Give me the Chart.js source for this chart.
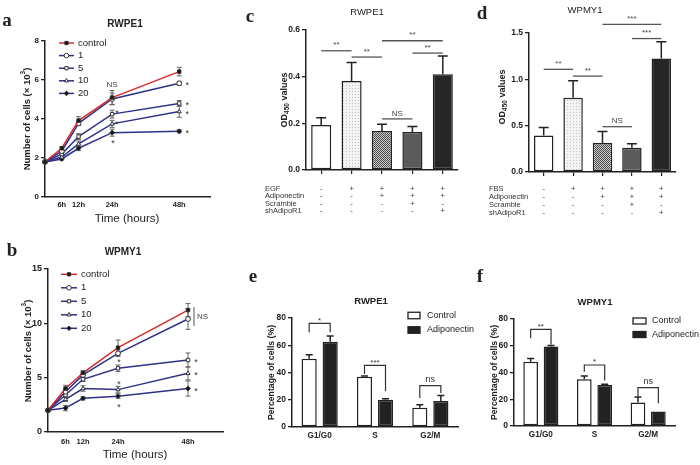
<!DOCTYPE html>
<html>
<head>
<meta charset="utf-8">
<title>Adiponectin proliferation figure</title>
<script src="https://cdn.jsdelivr.net/npm/chart.js@4.4.1/dist/chart.umd.min.js"></script>
<style>
  body { margin: 0; background: #fff; }
  #figure { position: relative; width: 700px; height: 465px; overflow: hidden; }
  #figure canvas { position: absolute; }
</style>
</head>
<body>
<div id="figure">
  <canvas id="panelA" width="235" height="228" style="left:0;top:0"></canvas>
  <canvas id="panelB" width="240" height="237" style="left:0;top:228px"></canvas>
  <canvas id="panelC" width="232" height="225" style="left:240px;top:0"></canvas>
  <canvas id="panelD" width="230" height="225" style="left:470px;top:0"></canvas>
  <canvas id="panelE" width="235" height="235" style="left:240px;top:230px"></canvas>
  <canvas id="panelF" width="230" height="235" style="left:470px;top:230px"></canvas>
</div>
<script>
// ---- data ----
// time course
const hours = [0, 6, 12, 24, 48];
const hourTicks = [6, 12, 24, 48];
const doses = ['control', '1', '5', '10', '20'];

// a: RWPE1, number of cells (x10^3)
const rwpeControl = [1.8, 2.5, 3.92, 5.1, 6.43];
const rwpeDose1 = [1.8, 2.35, 3.78, 5.03, 5.83];
const rwpeDose5 = [1.8, 2.2, 3.1, 4.25, 4.8];
const rwpeDose10 = [1.8, 2.05, 2.72, 3.75, 4.38];
const rwpeDose20 = [1.8, 1.95, 2.5, 3.3, 3.37];
const rwpeControlErr = [0.03, 0.08, 0.2, 0.36, 0.22];
const rwpeDose1Err = [0.03, 0.08, 0.12, 0.3, 0.1];
const rwpeDose5Err = [0.03, 0.08, 0.15, 0.2, 0.15];
const rwpeDose10Err = [0.03, 0.08, 0.15, 0.18, 0.29];
const rwpeDose20Err = [0.03, 0.06, 0.12, 0.18, 0.08];

// b: WPMY1, number of cells (x10^3)
const wpmyControl = [2.0, 4.0, 5.45, 7.76, 11.22];
const wpmyDose1 = [2.0, 3.7, 5.25, 7.24, 10.4];
const wpmyDose5 = [2.0, 3.4, 4.85, 5.86, 6.62];
const wpmyDose10 = [2.0, 3.0, 4.0, 3.9, 5.4];
const wpmyDose20 = [2.0, 2.2, 3.1, 3.3, 4.0];
const wpmyControlErr = [0.05, 0.3, 0.2, 0.7, 0.6];
const wpmyDose1Err = [0.05, 0.25, 0.2, 0.3, 0.95];
const wpmyDose5Err = [0.05, 0.2, 0.2, 0.3, 0.65];
const wpmyDose10Err = [0.05, 0.2, 0.25, 0.3, 0.6];
const wpmyDose20Err = [0.05, 0.25, 0.15, 0.2, 0.7];

// c, d: OD450
const odGroups = ['Control', 'Stimulus', 'Adiponectin', 'Adiponectin + Scramble', 'Adiponectin + shAdipoR1'];
const rwpeOD = [0.193, 0.381, 0.167, 0.163, 0.41];
const rwpeODErr = [0.031, 0.08, 0.029, 0.023, 0.079];
const wpmyOD = [0.393, 0.80, 0.314, 0.263, 1.226];
const wpmyODErr = [0.087, 0.185, 0.122, 0.043, 0.18];
const rwpeRows = ['EGF', 'Adiponectin', 'Scramble', 'shAdipoR1'];
const wpmyRows = ['FBS', 'Adiponectin', 'Scramble', 'shAdipoR1'];
const treatMarks = [
  ['-', '+', '+', '+', '+'],
  ['-', '-', '+', '+', '+'],
  ['-', '-', '-', '+', '-'],
  ['-', '-', '-', '-', '+']
];
// [bar from, bar to, height, label]
const rwpeODSig = [[0, 1, 0.511, '**'], [1, 2, 0.484, '**'], [2, 3, 0.219, 'NS'], [3, 4, 0.501, '**'], [2, 4, 0.554, '**']];
const wpmyODSig = [[0, 1, 1.108, '**'], [1, 2, 1.035, '**'], [2, 3, 0.489, 'NS'], [3, 4, 1.44, '***'], [2, 4, 1.593, '***']];

// e, f: cell cycle (%)
const phases = ['G1/G0', 'S', 'G2/M'];
const rwpeCtrlPct = [50.1, 36.9, 14.2];
const rwpeCtrlPctErr = [2.9, 0.5, 2.2];
const rwpeAdipoPct = [62.6, 20.0, 19.1];
const rwpeAdipoPctErr = [4.2, 0.7, 4.1];
const wpmyCtrlPct = [48.1, 34.9, 17.5];
const wpmyCtrlPctErr = [2.4, 2.5, 4.2];
const wpmyAdipoPct = [59.4, 30.7, 10.9];
const wpmyAdipoPctErr = [0.7, 0.5, 0];
// [phase, bracket top, left leg end, right leg end, label]
const rwpePctSig = [[0, 76, 69.5, 69.5, '*'], [1, 45.2, 38.9, 26.2, '***'], [2, 30.3, 21.3, 25, 'ns']];
const wpmyPctSig = [[0, 72.3, 65.6, 61, '**'], [1, 45.6, 40.6, 34, '*'], [2, 28.7, 22.2, 17, 'ns']];

// ---- styles ----
const SANS = '"Liberation Sans", Arial, sans-serif';
const SERIF = '"Liberation Serif", "Times New Roman", serif';
Chart.defaults.font.family = SANS;
Chart.defaults.color = '#222';

const doseColors = ['#d42b2b', '#2f3186', '#2f3186', '#2f3186', '#2f3186'];
const doseMarkers = ['rect', 'circle', 'rect', 'triangle', 'rectRot'];
const doseFills = ['#111', '#fff', '#fff', '#fff', '#111'];

function makePattern(size, draw) {
  const c = document.createElement('canvas');
  c.width = c.height = size;
  const g = c.getContext('2d');
  draw(g);
  return g.createPattern(c, 'repeat');
}
const dotted = makePattern(3, g => {
  g.fillStyle = '#f3f3f3'; g.fillRect(0, 0, 3, 3);
  g.fillStyle = '#c4c4c4'; g.fillRect(1, 1, 1, 1);
});
const checker = makePattern(2, g => {
  g.fillStyle = '#cdcdcd'; g.fillRect(0, 0, 2, 2);
  g.fillStyle = '#4a4a4a'; g.fillRect(0, 0, 1, 1); g.fillRect(1, 1, 1, 1);
});
const odFills = ['#ffffff', dotted, checker, '#5b5b5b', '#262626'];

// ---- drawing helpers ----
function drawMarker(ctx, style, x, y, r) {
  ctx.beginPath();
  if (style === 'circle') {
    ctx.arc(x, y, r, 0, Math.PI * 2);
  } else if (style === 'rect') {
    const s = r * Math.SQRT1_2;
    ctx.rect(x - s, y - s, 2 * s, 2 * s);
  } else if (style === 'rectRot') {
    ctx.moveTo(x, y - r); ctx.lineTo(x + r, y); ctx.lineTo(x, y + r); ctx.lineTo(x - r, y); ctx.closePath();
  } else {
    ctx.moveTo(x, y - r); ctx.lineTo(x + r * 0.866, y + r * 0.5); ctx.lineTo(x - r * 0.866, y + r * 0.5); ctx.closePath();
  }
  ctx.fill();
  ctx.stroke();
}

function putText(ctx, t, x, y, font, align, baseline, color) {
  ctx.font = font;
  ctx.textAlign = align || 'center';
  ctx.textBaseline = baseline || 'middle';
  ctx.fillStyle = color || '#222';
  ctx.fillText(t, x, y);
}

// rotated axis title made of pieces (for sub/superscripts)
function richTitle(ctx, title) {
  ctx.save();
  ctx.translate(title.x, title.y);
  ctx.rotate(-Math.PI / 2);
  ctx.textAlign = 'left';
  ctx.textBaseline = 'middle';
  ctx.fillStyle = '#222';
  let w = 0;
  const widths = title.parts.map(p => {
    ctx.font = `${title.weight} ${p[1]}px ${SANS}`;
    const m = ctx.measureText(p[0]).width;
    w += m;
    return m;
  });
  let cx = -w / 2;
  title.parts.forEach((p, i) => {
    ctx.font = `${title.weight} ${p[1]}px ${SANS}`;
    ctx.fillText(p[0], cx, p[2]);
    cx += widths[i];
  });
  ctx.restore();
}

function star(ctx, x, y) {
  putText(ctx, '*', x, y + 5, `9px ${SANS}`, 'center', 'alphabetic', '#333');
}

function panelPlugin(cfg) {
  return {
    id: 'panelExtras',
    beforeDatasetsDraw(chart) {
      if (!cfg.lineErrors) return;
      const ctx = chart.ctx, ys = chart.scales.y;
      ctx.save();
      ctx.strokeStyle = '#666';
      ctx.lineWidth = 1;
      chart.data.datasets.forEach((ds, i) => {
        const meta = chart.getDatasetMeta(i);
        ds.errors.forEach((e, j) => {
          const x = meta.data[j].x, v = ds.data[j].y;
          const t = ys.getPixelForValue(v + e), b = ys.getPixelForValue(v - e);
          ctx.beginPath();
          ctx.moveTo(x, t); ctx.lineTo(x, b);
          ctx.moveTo(x - 2.5, t); ctx.lineTo(x + 2.5, t);
          ctx.moveTo(x - 2.5, b); ctx.lineTo(x + 2.5, b);
          ctx.stroke();
        });
      });
      ctx.restore();
    },
    afterDatasetsDraw(chart) {
      if (!cfg.barCap) return;
      const ctx = chart.ctx, ys = chart.scales.y;
      ctx.save();
      ctx.strokeStyle = '#222';
      ctx.lineWidth = 1.5;
      chart.data.datasets.forEach((ds, i) => {
        const meta = chart.getDatasetMeta(i);
        ds.errors.forEach((e, j) => {
          if (!e) return;
          const bar = meta.data[j];
          const t = ys.getPixelForValue(ds.data[j] + e);
          ctx.beginPath();
          ctx.moveTo(bar.x, bar.y); ctx.lineTo(bar.x, t);
          ctx.moveTo(bar.x - cfg.barCap, t); ctx.lineTo(bar.x + cfg.barCap, t);
          ctx.stroke();
        });
      });
      ctx.restore();
    },
    afterDraw(chart) {
      const ctx = chart.ctx, ys = chart.scales.y;
      ctx.save();
      (cfg.texts || []).forEach(t => putText(ctx, t[0], t[1], t[2], t[3]));
      if (cfg.yTitle) richTitle(ctx, cfg.yTitle);

      // line + marker legend
      if (cfg.lineLegend) {
        const L = cfg.lineLegend;
        chart.data.datasets.forEach((ds, i) => {
          const y = L.y0 + i * L.dy;
          ctx.strokeStyle = ds.borderColor;
          ctx.lineWidth = 1.5;
          ctx.beginPath(); ctx.moveTo(L.x0, y); ctx.lineTo(L.x1, y); ctx.stroke();
          ctx.fillStyle = ds.pointBackgroundColor;
          ctx.strokeStyle = ds.pointBorderColor;
          ctx.lineWidth = 1;
          drawMarker(ctx, ds.pointStyle, (L.x0 + L.x1) / 2, y, 2.3);
          putText(ctx, ds.label, L.tx, y, `${L.size}px ${SANS}`, 'left');
        });
      }

      // boxed legend
      if (cfg.boxLegend) {
        const L = cfg.boxLegend;
        chart.data.datasets.forEach((ds, i) => {
          const y = L.ys[i];
          ctx.fillStyle = ds.backgroundColor;
          ctx.strokeStyle = '#222';
          ctx.lineWidth = 1.3;
          ctx.fillRect(L.x, y - L.h / 2, L.w, L.h);
          ctx.strokeRect(L.x, y - L.h / 2, L.w, L.h);
          putText(ctx, ds.label, L.tx, y, `${L.size}px ${SANS}`, 'left');
        });
      }

      // treatment table under the bars
      if (cfg.table) {
        const T = cfg.table, bars = chart.getDatasetMeta(0).data;
        const font = `${T.size}px ${SANS}`;
        T.rows.forEach((r, i) => {
          putText(ctx, r, T.x, T.ys[i], font, 'left', 'middle', '#333');
          T.marks[i].forEach((m, j) => putText(ctx, m, bars[j].x, T.ys[i], font, 'center', 'middle', '#333'));
        });
      }

      // significance lines between bars
      (cfg.sigLines || []).forEach(s => {
        const bars = chart.getDatasetMeta(0).data;
        const y = ys.getPixelForValue(s[2]);
        ctx.strokeStyle = '#555';
        ctx.lineWidth = 1.3;
        ctx.beginPath(); ctx.moveTo(bars[s[0]].x, y); ctx.lineTo(bars[s[1]].x, y); ctx.stroke();
        putText(ctx, s[3], (bars[s[0]].x + bars[s[1]].x) / 2, y - 1.5, `8px ${SANS}`, 'center', 'bottom', '#444');
      });

      // brackets between paired bars
      (cfg.brackets || []).forEach(b => {
        const xl = chart.getDatasetMeta(0).data[b[0]].x;
        const xr = chart.getDatasetMeta(1).data[b[0]].x;
        const yt = ys.getPixelForValue(b[1]);
        ctx.strokeStyle = '#333';
        ctx.lineWidth = 1.2;
        ctx.beginPath();
        ctx.moveTo(xl, ys.getPixelForValue(b[2]));
        ctx.lineTo(xl, yt); ctx.lineTo(xr, yt);
        ctx.lineTo(xr, ys.getPixelForValue(b[3]));
        ctx.stroke();
        if (b[4] === 'ns') {
          putText(ctx, b[4], (xl + xr) / 2, yt - 1.5, `9px ${SANS}`, 'center', 'bottom', '#333');
        } else {
          putText(ctx, b[4], (xl + xr) / 2, yt + 1, `8px ${SANS}`, 'center', 'bottom', '#333');
        }
      });

      // point notes on line panels
      (cfg.notes || []).forEach(n => {
        const p = chart.getDatasetMeta(n[0]).data[n[1]];
        if (n[2] === '*') star(ctx, p.x + n[3], p.y + n[4]);
        else putText(ctx, n[2], p.x + n[3], p.y + n[4], `8px ${SANS}`, 'center', 'middle', '#444');
      });
      if (cfg.nsBar) {
        const N = cfg.nsBar;
        const p1 = chart.getDatasetMeta(N.a).data[N.idx], p2 = chart.getDatasetMeta(N.b).data[N.idx];
        const x = p1.x + N.dx, y1 = p1.y - 3, y2 = p2.y + 7;
        ctx.strokeStyle = '#555'; ctx.lineWidth = 1;
        ctx.beginPath(); ctx.moveTo(x, y1); ctx.lineTo(x, y2); ctx.stroke();
        putText(ctx, N.text, x + 3, (y1 + y2) / 2, `8px ${SANS}`, 'left', 'middle', '#444');
      }
      ctx.restore();
    }
  };
}

function baseOptions(pad) {
  return {
    responsive: false,
    animation: false,
    devicePixelRatio: 1,
    events: [],
    layout: { padding: pad },
    plugins: { legend: { display: false }, tooltip: { enabled: false } }
  };
}

function yAxis(max, step, width, size, fmt) {
  return {
    min: 0,
    max: max,
    afterFit: s => { s.width = width; },
    ticks: { stepSize: step, font: { size: size, weight: 'bold' }, color: '#222', padding: 2, callback: fmt },
    grid: { drawOnChartArea: false, tickLength: 4, color: '#222', lineWidth: 1.3 },
    border: { color: '#222', width: 1.5 }
  };
}

function timeAxis(max, height, pad) {
  return {
    type: 'linear',
    min: 0,
    max: max,
    afterFit: s => { s.height = height; },
    afterBuildTicks: s => { s.ticks = hourTicks.map(v => ({ value: v })); },
    ticks: { callback: v => v + 'h', font: { size: 7.5, weight: 'bold' }, color: '#222', padding: pad, maxRotation: 0, autoSkip: false },
    grid: { drawOnChartArea: false, drawTicks: false },
    border: { color: '#222', width: 1.5 }
  };
}

function growthSets(series, errors) {
  return series.map((vals, i) => ({
    label: doses[i],
    data: hours.map((h, j) => ({ x: h, y: vals[j] })),
    errors: errors[i],
    borderColor: doseColors[i],
    borderWidth: 1.5,
    pointStyle: doseMarkers[i],
    pointRadius: 2.4,
    pointBackgroundColor: doseFills[i],
    pointBorderColor: '#333',
    pointBorderWidth: 1,
    tension: 0,
    clip: false
  }));
}

// ---- a: RWPE1 growth ----
new Chart(document.getElementById('panelA'), {
  type: 'line',
  data: {
    datasets: growthSets(
      [rwpeControl, rwpeDose1, rwpeDose5, rwpeDose10, rwpeDose20],
      [rwpeControlErr, rwpeDose1Err, rwpeDose5Err, rwpeDose10Err, rwpeDose20Err])
  },
  options: Object.assign(baseOptions({ top: 41, right: 25, left: 0, bottom: 0 }), {
    scales: { x: timeAxis(59, 31, 3), y: yAxis(8, 2, 45, 8) }
  }),
  plugins: [panelPlugin({
    lineErrors: true,
    texts: [
      ['a', 7, 21, `bold 19px ${SERIF}`],
      ['RWPE1', 125, 24, `bold 10px ${SANS}`],
      ['Time (hours)', 127, 219, `11.5px ${SANS}`]
    ],
    yTitle: { x: 27, y: 119, weight: 'bold', parts: [['Number of cells (× 10', 9.5, 0], ['3', 6.5, -3.5], [')', 9.5, 0]] },
    lineLegend: { x0: 59, x1: 74, tx: 78, y0: 43, dy: 12.6, size: 9.5 },
    notes: [[0, 3, 'NS', 0, -13], [1, 4, '*', 8, 0], [2, 4, '*', 8, 0], [3, 4, '*', 8, 0], [4, 4, '*', 8, 0],
            [2, 3, '*', 5, -3], [3, 3, '*', 5, -2], [4, 3, '*', 1, 8]]
  })]
});

// ---- b: WPMY1 growth ----
new Chart(document.getElementById('panelB'), {
  type: 'line',
  data: {
    datasets: growthSets(
      [wpmyControl, wpmyDose1, wpmyDose5, wpmyDose10, wpmyDose20],
      [wpmyControlErr, wpmyDose1Err, wpmyDose5Err, wpmyDose10Err, wpmyDose20Err])
  },
  options: Object.assign(baseOptions({ top: 41, right: 17, left: 0, bottom: 0 }), {
    scales: { x: timeAxis(60, 33, 5), y: yAxis(15, 5, 48, 9) }
  }),
  plugins: [panelPlugin({
    lineErrors: true,
    texts: [
      ['b', 12, 23, `bold 19px ${SERIF}`],
      ['WPMY1', 123, 24, `bold 10px ${SANS}`],
      ['Time (hours)', 135, 227, `11.5px ${SANS}`]
    ],
    yTitle: { x: 28, y: 123, weight: 'bold', parts: [['Number of cells (× 10', 9.5, 0], ['3', 6.5, -3.5], [')', 9.5, 0]] },
    lineLegend: { x0: 61, x1: 77, tx: 81, y0: 46.3, dy: 13.5, size: 9.5 },
    notes: [[2, 4, '*', 8, 0], [3, 4, '*', 8, 0], [4, 4, '*', 8, 0], [2, 3, '*', 1, -8], [3, 3, '*', 1, -8], [4, 3, '*', 1, 9]],
    nsBar: { a: 0, b: 1, idx: 4, dx: 6, text: 'NS' }
  })]
});

// ---- c, d: OD450 bars ----
function odChart(id, values, errors, max, step, pad, yWidth, xHeight, cfg) {
  return new Chart(document.getElementById(id), {
    type: 'bar',
    data: {
      labels: odGroups,
      datasets: [{
        data: values,
        errors: errors,
        backgroundColor: odFills,
        borderColor: '#222',
        borderWidth: 1.5,
        borderSkipped: false,
        barPercentage: 0.66,
        categoryPercentage: 1
      }]
    },
    options: Object.assign(baseOptions(pad), {
      scales: {
        x: {
          afterFit: s => { s.height = xHeight; },
          ticks: { display: false },
          grid: { offset: false, drawOnChartArea: false, tickLength: 4, color: '#222', lineWidth: 1.2 },
          border: { color: '#222', width: 1.5 }
        },
        y: yAxis(max, step, yWidth, 8.5, v => v.toFixed(1))
      }
    }),
    plugins: [panelPlugin(cfg)]
  });
}

odChart('panelC', rwpeOD, rwpeODErr, 0.6, 0.2, { top: 30, right: 14, left: 0, bottom: 0 }, 66, 55, {
  barCap: 5,
  texts: [
    ['c', 10, 17, `bold 19px ${SERIF}`],
    ['RWPE1', 127, 12, `9.5px ${SANS}`]
  ],
  yTitle: { x: 45, y: 100, weight: 'bold', parts: [['OD', 9, 0], ['450', 6.5, 2.5], [' values', 9, 0]] },
  table: { rows: rwpeRows, marks: treatMarks, x: 25, ys: [189, 196.3, 203.7, 211], size: 7.5 },
  sigLines: rwpeODSig
});

odChart('panelD', wpmyOD, wpmyODErr, 1.5, 0.5, { top: 33, right: 24, left: 0, bottom: 0 }, 59, 53, {
  barCap: 5,
  texts: [
    ['d', 12, 14, `bold 19px ${SERIF}`],
    ['WPMY1', 115, 10, `9.5px ${SANS}`]
  ],
  yTitle: { x: 33, y: 97, weight: 'bold', parts: [['OD', 9, 0], ['450', 6.5, 2.5], [' values', 9, 0]] },
  table: { rows: wpmyRows, marks: treatMarks, x: 19, ys: [189.3, 197.3, 205.3, 213.3], size: 7.5 },
  sigLines: wpmyODSig
});

// ---- e, f: cell cycle bars ----
function cycleChart(id, ctrl, ctrlErr, adipo, adipoErr, pad, yWidth, xHeight, cfg) {
  return new Chart(document.getElementById(id), {
    type: 'bar',
    data: {
      labels: phases,
      datasets: [
        { label: 'Control', data: ctrl, errors: ctrlErr, backgroundColor: '#ffffff', borderColor: '#222', borderWidth: 1.5, borderSkipped: false, barPercentage: 0.72, categoryPercentage: 0.76 },
        { label: 'Adiponectin', data: adipo, errors: adipoErr, backgroundColor: '#222222', borderColor: '#222', borderWidth: 1.5, borderSkipped: false, barPercentage: 0.72, categoryPercentage: 0.76 }
      ]
    },
    options: Object.assign(baseOptions(pad), {
      scales: {
        x: {
          afterFit: s => { s.height = xHeight; },
          ticks: { font: { size: 8.2, weight: 'bold' }, color: '#222', padding: 4 },
          grid: { drawOnChartArea: false, drawTicks: false },
          border: { color: '#222', width: 1.5 }
        },
        y: yAxis(80, 20, yWidth, 8.5)
      }
    }),
    plugins: [panelPlugin(cfg)]
  });
}

cycleChart('panelE', rwpeCtrlPct, rwpeCtrlPctErr, rwpeAdipoPct, rwpeAdipoPctErr, { top: 88, right: 17, left: 0, bottom: 0 }, 52, 38, {
  barCap: 3.5,
  texts: [
    ['e', 13, 47, `bold 19px ${SERIF}`],
    ['RWPE1', 131, 71, `bold 9.5px ${SANS}`]
  ],
  yTitle: { x: 32, y: 142.5, weight: 'bold', parts: [['Percentage of cells (%)', 8.7, 0]] },
  boxLegend: { x: 168, w: 12, h: 6.5, ys: [85.5, 100], tx: 187, size: 9 },
  brackets: rwpePctSig
});

cycleChart('panelF', wpmyCtrlPct, wpmyCtrlPctErr, wpmyAdipoPct, wpmyAdipoPctErr, { top: 89, right: 25, left: 0, bottom: 0 }, 44, 39, {
  barCap: 3.5,
  texts: [
    ['f', 10, 47, `bold 19px ${SERIF}`],
    ['WPMY1', 125, 72, `bold 9.5px ${SANS}`]
  ],
  yTitle: { x: 25, y: 142.5, weight: 'bold', parts: [['Percentage of cells (%)', 8.7, 0]] },
  boxLegend: { x: 163, w: 13, h: 6, ys: [91, 104.5], tx: 182, size: 9 },
  brackets: wpmyPctSig
});
</script>
</body>
</html>
